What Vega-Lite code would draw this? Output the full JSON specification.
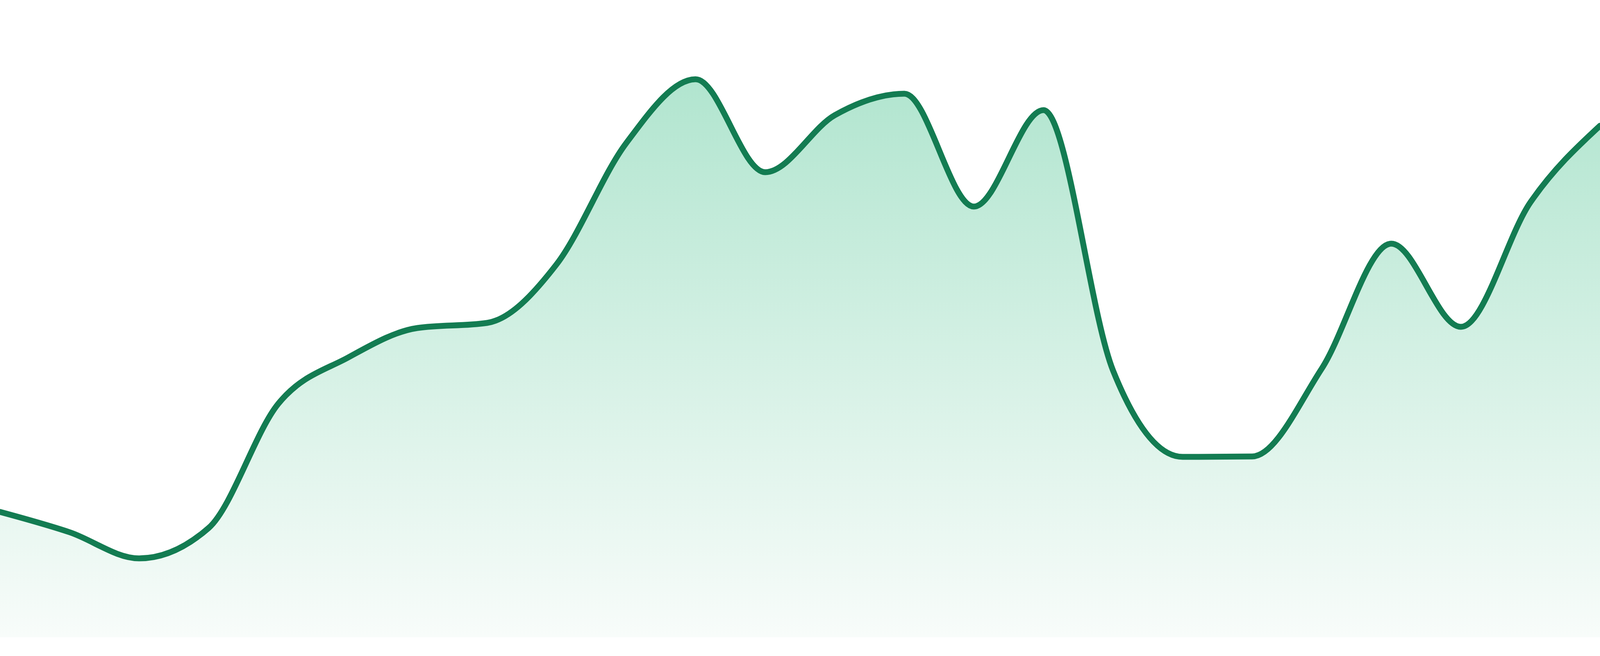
{
  "$schema": "https://vega.github.io/schema/vega-lite/v6.json",
  "width": "container",
  "height": 1680,
  "padding": 0,
  "autosize": {"type": "fit", "contains": "padding"},
  "background": "white",
  "config": {"view": {"stroke": null}},
  "data": {
    "values": [
      {"t": 0, "v": 32.1},
      {"t": 1, "v": 26.9},
      {"t": 2, "v": 20.2},
      {"t": 3, "v": 28.0},
      {"t": 4, "v": 59.8},
      {"t": 5, "v": 71.6},
      {"t": 6, "v": 79.2},
      {"t": 7, "v": 80.5},
      {"t": 8, "v": 95.5},
      {"t": 9, "v": 126.5},
      {"t": 10, "v": 142.9},
      {"t": 11, "v": 119.1},
      {"t": 12, "v": 133.7},
      {"t": 13, "v": 139.2},
      {"t": 14, "v": 110.3},
      {"t": 15, "v": 135.0},
      {"t": 16, "v": 68.3},
      {"t": 17, "v": 46.2},
      {"t": 18, "v": 46.3},
      {"t": 19, "v": 68.8},
      {"t": 20, "v": 100.8},
      {"t": 21, "v": 79.5},
      {"t": 22, "v": 111.4},
      {"t": 23, "v": 131.0}
    ]
  },
  "encoding": {
    "x": {"field": "t", "type": "quantitative", "scale": {"domain": [0, 23], "nice": false, "zero": false}, "axis": null},
    "y": {"field": "v", "type": "quantitative", "scale": {"domain": [-4.8, 163.2], "nice": false}, "axis": null}
  },
  "layer": [
    {
      "mark": {
        "type": "area",
        "interpolate": "monotone",
        "clip": true,
        "color": {
          "gradient": "linear",
          "x1": 0, "y1": 0, "x2": 0, "y2": 1,
          "stops": [
            {"offset": 0, "color": "#b1e5cf"},
            {"offset": 1, "color": "#f8fcfa"}
          ]
        }
      }
    },
    {
      "mark": {"type": "line", "interpolate": "monotone", "clip": true, "color": "#137c52", "strokeWidth": 15, "strokeCap": "round", "strokeJoin": "round"}
    }
  ]
}
